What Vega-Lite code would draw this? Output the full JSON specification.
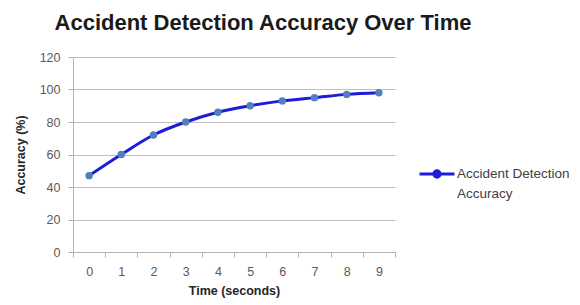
{
  "$schema": "https://vega.github.io/schema/vega-lite/v6.json",
  "width": 322,
  "height": 195,
  "autosize": {"type": "none"},
  "padding": {"left": 73, "top": 57, "right": 185, "bottom": 53},
  "background": "white",
  "title": {
    "text": "Accident Detection Accuracy Over Time",
    "font": "Liberation Sans",
    "fontSize": 22,
    "fontWeight": "bold",
    "color": "#1a1a1a",
    "anchor": "middle",
    "frame": "group",
    "dx": 29,
    "offset": 16
  },
  "config": {
    "view": {"stroke": null},
    "style": {"guide-label": {"lineHeight": 20}},
    "axis": {
      "labelFont": "Liberation Sans",
      "labelFontSize": 12.5,
      "labelColor": "#595959",
      "titleFont": "Liberation Sans",
      "titleFontSize": 12.5,
      "titleFontWeight": "bold",
      "titleColor": "#262626",
      "domainColor": "#b3b3b3",
      "tickColor": "#b3b3b3",
      "gridColor": "#bfbfbf"
    }
  },
  "data": {
    "values": [
      {"time": 0, "accuracy": 47, "series": "Accident Detection Accuracy"},
      {"time": 1, "accuracy": 60, "series": "Accident Detection Accuracy"},
      {"time": 2, "accuracy": 72, "series": "Accident Detection Accuracy"},
      {"time": 3, "accuracy": 80, "series": "Accident Detection Accuracy"},
      {"time": 4, "accuracy": 86, "series": "Accident Detection Accuracy"},
      {"time": 5, "accuracy": 90, "series": "Accident Detection Accuracy"},
      {"time": 6, "accuracy": 93, "series": "Accident Detection Accuracy"},
      {"time": 7, "accuracy": 95, "series": "Accident Detection Accuracy"},
      {"time": 8, "accuracy": 97, "series": "Accident Detection Accuracy"},
      {"time": 9, "accuracy": 98, "series": "Accident Detection Accuracy"}
    ]
  },
  "layer": [
    {
      "mark": {"type": "line", "interpolate": "monotone", "strokeWidth": 3},
      "encoding": {
        "x": {
          "field": "time",
          "type": "quantitative",
          "scale": {"domain": [-0.5, 9.5], "nice": false, "zero": false},
          "axis": {
            "orient": "bottom",
            "values": [0, 1, 2, 3, 4, 5, 6, 7, 8, 9],
            "ticks": false,
            "domain": false,
            "grid": false,
            "labelPadding": 13,
            "title": "Time (seconds)",
            "titlePadding": 7
          }
        },
        "y": {
          "field": "accuracy",
          "type": "quantitative",
          "scale": {"domain": [0, 120], "nice": false},
          "axis": {
            "values": [0, 20, 40, 60, 80, 100, 120],
            "labelOverlap": false,
            "grid": true,
            "tickSize": 5,
            "labelPadding": 8,
            "title": "Accuracy (%)",
            "titlePadding": 12
          }
        },
        "color": {
          "field": "series",
          "type": "nominal",
          "scale": {"range": ["#1c1cd9"]},
          "legend": {
            "orient": "none",
            "legendX": 345,
            "legendY": 98,
            "title": null,
            "symbolType": "M-1,0H1M-0.18,0A0.18,0.18,0,1,0,0.18,0A0.18,0.18,0,1,0,-0.18,0Z",
            "symbolSize": 1225,
            "symbolStrokeWidth": 3,
            "symbolFillColor": "#4f81bd",
            "labelExpr": "['Accident Detection', 'Accuracy']",
            "labelFont": "Liberation Sans",
            "labelFontSize": 13.5,
            "labelColor": "#404040",
            "labelOffset": 1
          }
        }
      }
    },
    {
      "mark": {"type": "circle", "size": 55, "color": "#4f81bd", "opacity": 1},
      "encoding": {
        "x": {
          "field": "time",
          "type": "quantitative",
          "axis": {
            "orient": "bottom",
            "values": [-0.5, 0.5, 1.5, 2.5, 3.5, 4.5, 5.5, 6.5, 7.5, 8.5, 9.5],
            "labels": false,
            "ticks": true,
            "tickSize": 5,
            "domain": true,
            "grid": false,
            "title": null
          }
        },
        "y": {
          "field": "accuracy",
          "type": "quantitative",
          "axis": {
            "values": [0, 20, 40, 60, 80, 100, 120],
            "labelOverlap": false,
            "grid": true,
            "tickSize": 5,
            "labelPadding": 8,
            "title": "Accuracy (%)",
            "titlePadding": 12
          }
        }
      }
    }
  ],
  "resolve": {"axis": {"x": "independent"}}
}
